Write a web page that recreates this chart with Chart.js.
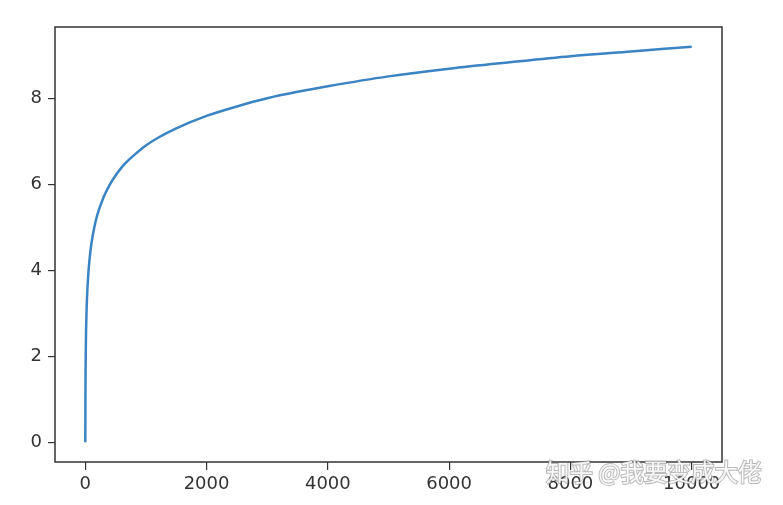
<!DOCTYPE html>
<html>
<head>
<meta charset="utf-8">
<script src="https://cdn.jsdelivr.net/npm/chart.js@4/dist/chart.umd.min.js"></script>
<style>
  html, body { margin: 0; padding: 0; background: #fff; }
  #wrap { width: 783px; height: 505px; position: relative; }
</style>
</head>
<body>
<div id="wrap"><canvas id="myChart" width="783" height="505"></canvas></div>
<script>
// values
const xs = [1, 2, 3, 5, 10, 20, 30, 50, 75, 100, 150, 200, 300, 400, 500, 600, 700, 800, 1000, 1200, 1500, 2000, 2500, 3000, 3500, 4000, 5000, 6000, 7000, 8000, 9000, 10000];
const ys = [0, 0.69, 1.10, 1.61, 2.30, 3.00, 3.40, 3.91, 4.32, 4.61, 5.01, 5.30, 5.70, 5.99, 6.21, 6.40, 6.55, 6.68, 6.91, 7.09, 7.31, 7.60, 7.82, 8.01, 8.16, 8.29, 8.52, 8.70, 8.85, 8.99, 9.10, 9.21];
const xTicks = [0, 2000, 4000, 6000, 8000, 10000];
const yTicks = [0, 2, 4, 6, 8];

const pts = xs.map((x, i) => ({ x: x, y: ys[i] }));
const tickFont = { family: 'DejaVu Sans', size: 18 };

// full box around plot area + watermark
const boxPlugin = {
  id: 'box',
  afterDraw(chart) {
    const a = chart.chartArea;
    const c = chart.ctx;
    c.save();
    c.strokeStyle = '#333';
    c.lineWidth = 1.5;
    c.strokeRect(a.left, a.top, a.right - a.left, a.bottom - a.top);
    c.font = '23.5px "Noto Sans CJK SC"';
    c.textBaseline = 'alphabetic';
    c.lineWidth = 2;
    c.strokeStyle = 'rgba(130,130,130,0.55)';
    c.strokeText('知乎 @我要变成大佬', 546, 481);
    c.fillStyle = 'rgba(255,255,255,0.9)';
    c.fillText('知乎 @我要变成大佬', 546, 481);
    c.restore();
  }
};

new Chart('myChart', {
  type: 'scatter',
  data: {
    datasets: [{
      data: pts,
      showLine: true,
      borderColor: '#3a84c3',
      borderWidth: 2.5,
      pointRadius: 0,
      cubicInterpolationMode: 'monotone'
    }]
  },
  options: {
    responsive: false,
    animation: false,
    layout: { padding: { left: 0, top: 27, right: 61, bottom: 0 } },
    plugins: { legend: { display: false }, tooltip: { enabled: false } },
    scales: {
      x: {
        type: 'linear',
        min: -499,
        max: 10500,
        afterBuildTicks: s => { s.ticks = xTicks.map(v => ({ value: v })); },
        afterFit: s => { s.height = 43; },
        grid: { drawOnChartArea: false, drawTicks: true, tickLength: 8, color: '#333', lineWidth: 1.2 },
        border: { display: false },
        ticks: { color: '#333', font: tickFont, padding: 4, maxRotation: 0, callback: v => String(v) }
      },
      y: {
        min: -0.46,
        max: 9.67,
        afterBuildTicks: s => { s.ticks = yTicks.map(v => ({ value: v })); },
        afterFit: s => { s.width = 55; },
        grid: { drawOnChartArea: false, drawTicks: true, tickLength: 7, color: '#333', lineWidth: 1.2 },
        border: { display: false },
        ticks: { color: '#333', font: tickFont, padding: 6, callback: v => String(v) }
      }
    }
  },
  plugins: [boxPlugin]
});
</script>
</body>
</html>
